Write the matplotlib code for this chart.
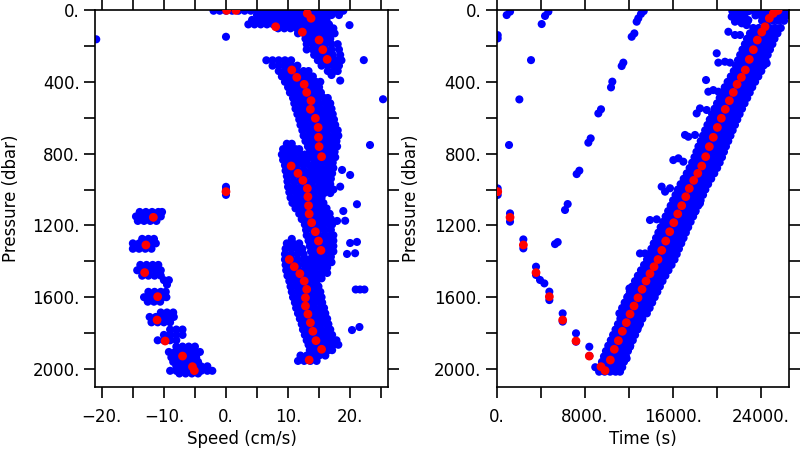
import matplotlib
matplotlib.use("Agg")
import matplotlib.pyplot as plt
import matplotlib.ticker as mticker

plt.rcParams.update({
    "font.family": ["DejaVu Sans"],
    "font.size": 12,
})

# ---------------- bin averages (red) : shared pressure list ----------------
red_p = [2, 2, 19, 46, 93, 123, 167, 221, 275, 334, 375, 414, 459, 505, 553, 603,
         654, 709, 761, 817, 869, 910, 949, 994, 1040, 1090, 1136, 1185, 1235, 1287,
         1339, 1390, 1430, 1469, 1510, 1556, 1603, 1649, 1694, 1742, 1790, 1842,
         1890, 1950, 1012, 1155, 1309, 1463, 1597, 1727, 1844, 1928, 1987, 2009]
red_speed = [0.1, 1.6, 13.1, 13.7, 8.0, 12.3, 15.0, 15.6, 16.3, 10.6, 11.4, 12.6, 13.0,
             13.7, 13.6, 14.4, 14.85, 14.9, 15.0, 15.4, 10.5, 11.6, 12.4, 13.1, 13.2,
             13.3, 13.4, 13.8, 14.4, 14.9, 15.3, 10.2, 11.0, 11.9, 12.6, 13.0, 12.8,
             12.8, 13.2, 13.6, 14.0, 14.5, 15.4, 13.4, 0.0, -11.7, -12.9, -13.1, -11.0,
             -11.1, -9.8, -7.0, -5.4, -5.1]
red_time = [25550, 25400, 25120, 24760, 24370, 24070, 23670, 23310, 22940, 22580,
            22220, 21830, 21490, 21130, 20760, 20400, 20040, 19670, 19310, 18980,
            18620, 18260, 17890, 17490, 17170, 16800, 16440, 16080, 15710, 15350,
            14990, 14650, 14290, 13920, 13560, 13200, 12830, 12470, 12110, 11770,
            11410, 11050, 10680, 10320, 90, 1210, 2420, 3570, 4780, 5990, 7200, 8410,
            9470, 9840]

# ---------------- raw samples (blue), speed panel: (pressure, speeds) rows ----------------
spd_surface = [
    (4, [-2.0, -1.0, 0.0, 1.0, 2.0, 3.0, 4.0, 5.0, 6.0, 7.0, 8.0, 9.0, 10.0, 11.0,
         12.0, 13.0, 14.0, 15.0, 16.0, 17.0, 18.0, 18.9]),
    (28, [5.0, 6.0, 7.0, 8.0, 9.0, 10.0, 11.0, 12.0, 13.0, 14.0, 15.0, 16.0, 17.0, 18.2]),
    (55, [4.2, 5.2, 6.2, 7.2, 8.2, 9.2, 10.2, 11.2, 12.2, 13.2, 14.2, 15.2, 16.2]),
    (80, [3.6, 4.6, 5.6, 6.6, 7.6, 8.6, 9.6, 10.6, 11.6, 12.6, 13.6, 14.6, 15.6, 16.6]),
    (102, [8.4, 9.4, 10.4, 11.4, 12.4, 13.4, 14.4, 15.4, 16.4, 17.3]),
    (130, [11.6, 12.6, 13.6, 14.6, 15.6, 16.6, 17.5]),
    (160, [12.8, 13.8, 14.8, 15.8, 16.8]),
    (190, [13.0, 14.0, 15.0, 16.0, 17.0, 18.0]),
    (220, [13.0, 14.0, 15.0, 16.0, 17.0, 18.2]),
    (250, [14.2, 15.2, 16.2, 17.2, 18.4]),
    (280, [14.8, 15.8, 16.8, 17.8, 18.6]),
    (310, [15.4, 16.4, 17.4, 18.2]),
    (340, [16.4, 17.4, 18.0]),
    (362, [17.0]),
]

spd_upper = [
    (280, [6.5, 7.5, 8.5, 9.5, 10.5]),
    (310, [7.5, 8.5, 9.5, 10.5, 11.5]),
    (340, [8.5, 9.5, 10.5, 11.5, 12.5, 13.3]),
    (370, [9.0, 10.0, 11.0, 12.0, 13.0, 14.0]),
    (400, [9.5, 10.5, 11.5, 12.5, 13.5, 14.5, 15.2]),
    (430, [10.0, 11.0, 12.0, 13.0, 14.0, 15.0]),
    (460, [10.3, 11.3, 12.3, 13.3, 14.3, 15.3]),
    (490, [10.8, 11.8, 12.8, 13.8, 14.8, 15.8, 16.4]),
    (520, [11.0, 12.0, 13.0, 14.0, 15.0, 16.0, 16.8]),
    (550, [11.2, 12.2, 13.2, 14.2, 15.2, 16.2, 17.0]),
    (580, [11.5, 12.5, 13.5, 14.5, 15.5, 16.5, 17.2]),
    (610, [11.8, 12.8, 13.8, 14.8, 15.8, 16.8, 17.4]),
    (640, [12.0, 13.0, 14.0, 15.0, 16.0, 17.0, 17.6]),
    (670, [12.3, 13.3, 14.3, 15.3, 16.3, 17.3, 18.0]),
    (700, [12.5, 13.5, 14.5, 15.5, 16.5, 17.5, 18.1]),
    (730, [12.8, 13.8, 14.8, 15.8, 16.8, 17.8]),
    (760, [13.2, 14.2, 15.2, 16.2, 17.2, 17.9]),
    (790, [13.5, 14.5, 15.5, 16.5, 17.5]),
    (820, [13.8, 14.8, 15.8, 16.8, 17.6]),
    (850, [14.2, 15.2, 16.2, 17.2]),
    (880, [14.4, 15.4, 16.4, 17.3]),
    (910, [14.6, 15.6, 16.6, 17.1]),
    (940, [14.9, 15.9, 16.9]),
    (970, [15.2, 16.2, 16.8]),
    (1000, [15.5, 16.5, 17.3]),
    (1020, [15.8, 16.8]),
]

spd_middle = [
    (745, [9.8, 10.6]),
    (775, [9.2, 10.2, 11.2, 11.8]),
    (805, [9.0, 10.0, 11.0, 12.0, 12.7]),
    (835, [9.2, 10.2, 11.2, 12.2, 13.0]),
    (865, [9.5, 10.5, 11.5, 12.5, 13.5]),
    (895, [9.6, 10.6, 11.6, 12.6, 13.6, 14.2]),
    (925, [9.8, 10.8, 11.8, 12.8, 13.8, 14.7]),
    (955, [9.9, 10.9, 11.9, 12.9, 13.9, 14.9]),
    (985, [10.0, 11.0, 12.0, 13.0, 14.0, 15.0]),
    (1015, [10.2, 11.2, 12.2, 13.2, 14.2, 15.2]),
    (1045, [10.4, 11.4, 12.4, 13.4, 14.4, 15.4]),
    (1075, [10.7, 11.7, 12.7, 13.7, 14.7, 15.7]),
    (1105, [11.2, 12.2, 13.2, 14.2, 15.2, 16.2]),
    (1135, [11.8, 12.8, 13.8, 14.8, 15.8, 16.7]),
    (1165, [12.2, 13.2, 14.2, 15.2, 16.2, 16.9]),
    (1195, [12.7, 13.7, 14.7, 15.7, 16.7, 17.1]),
    (1225, [12.9, 13.9, 14.9, 15.9, 16.9]),
    (1255, [13.0, 14.0, 15.0, 16.0, 17.0, 17.3]),
    (1285, [13.3, 14.3, 15.3, 16.3, 17.3]),
    (1315, [13.5, 14.5, 15.5, 16.5, 17.3]),
    (1345, [13.7, 14.7, 15.7, 16.7, 17.3]),
    (1375, [13.9, 14.9, 15.9, 16.9]),
    (1405, [14.1, 15.1, 16.1, 17.0]),
    (1435, [14.3, 15.3, 16.3]),
    (1465, [14.5, 15.5, 16.3]),
    (1495, [14.8, 15.4]),
]

spd_deep = [
    (1275, [10.6]),
    (1300, [9.8, 10.8, 11.8]),
    (1330, [9.6, 10.6, 11.6, 12.3]),
    (1360, [9.5, 10.5, 11.5, 12.5]),
    (1390, [9.5, 10.5, 11.5, 12.5, 13.1]),
    (1420, [9.6, 10.6, 11.6, 12.6, 13.4]),
    (1450, [9.7, 10.7, 11.7, 12.7, 13.7]),
    (1480, [9.9, 10.9, 11.9, 12.9, 13.9, 14.2]),
    (1510, [10.2, 11.2, 12.2, 13.2, 14.2, 14.6]),
    (1540, [10.4, 11.4, 12.4, 13.4, 14.4, 14.9]),
    (1570, [10.6, 11.6, 12.6, 13.6, 14.6, 15.2]),
    (1600, [10.8, 11.8, 12.8, 13.8, 14.8, 15.4]),
    (1630, [11.1, 12.1, 13.1, 14.1, 15.1, 15.5]),
    (1660, [11.3, 12.3, 13.3, 14.3, 15.3, 15.8]),
    (1690, [11.6, 12.6, 13.6, 14.6, 15.6, 16.0]),
    (1720, [11.9, 12.9, 13.9, 14.9, 15.9, 16.3]),
    (1750, [12.2, 13.2, 14.2, 15.2, 16.2, 16.5]),
    (1780, [12.4, 13.4, 14.4, 15.4, 16.4, 16.8]),
    (1810, [12.7, 13.7, 14.7, 15.7, 16.7, 17.1]),
    (1840, [13.0, 14.0, 15.0, 16.0, 17.0, 17.8]),
    (1865, [13.3, 14.3, 15.3, 16.3, 17.3, 18.1]),
    (1895, [13.5, 14.5, 15.5, 16.5, 17.1]),
    (1925, [12.0, 13.0, 14.0, 15.0, 16.0]),
    (1955, [11.6, 12.6, 13.6, 14.6]),
]

spd_descent = [
    (985, [0.0]), (1000, [0.0]), (1030, [0.0]),
    (1125, [-13.9, -12.9, -11.9, -10.9, -10.3]),
    (1150, [-14.5, -13.5, -12.5, -11.5, -10.5]),
    (1175, [-14.2, -13.2, -12.2, -11.2]),
    (1275, [-13.5, -12.5, -11.6]),
    (1300, [-15.0, -14.0, -13.0, -12.0, -11.3]),
    (1330, [-15.0, -14.0, -13.0, -12.0]),
    (1420, [-13.8, -12.8, -11.8, -10.9]),
    (1450, [-14.3, -13.3, -12.3, -11.3, -10.5]),
    (1480, [-13.5, -12.5, -11.5, -10.5]),
    (1505, [-10.0, -9.2]),
    (1530, [-9.5]),
    (1570, [-12.5, -11.5, -10.5, -9.7]),
    (1600, [-13.2, -12.2, -11.2, -10.2, -9.6]),
    (1625, [-12.6, -11.6, -10.6]),
    (1685, [-10.5, -9.5, -8.5]),
    (1710, [-12.3, -11.3, -10.3, -9.3, -8.4]),
    (1740, [-12.0, -11.0, -10.0, -9.0]),
    (1780, [-9.0, -8.0, -7.0]),
    (1810, [-10.0, -9.0, -8.0, -7.0]),
    (1840, [-11.0, -10.0, -9.0, -8.0]),
    (1875, [-8.0, -7.0, -6.0, -5.0]),
    (1905, [-9.2, -8.2, -7.2, -6.2, -5.2, -4.2]),
    (1935, [-8.8, -7.8, -6.8, -5.8, -4.8]),
    (1960, [-8.5, -7.5, -6.5, -5.5, -4.5]),
    (1985, [-8.0, -7.0, -6.0, -5.0, -4.0, -3.0]),
    (2010, [-9.0, -8.0, -7.0, -6.0, -5.0, -4.0, -3.0, -2.2]),
    (2025, [-7.5, -6.5, -5.5, -4.5]),
]

loose_p = [163, 149, 84, 279, 393, 497, 752, 891, 919, 984, 1003, 1082, 1120, 1175,
           1174, 1298, 1292, 1359, 1355, 1557, 1557, 1557, 1783, 1766]
loose_speed = [-20.9, 0.0, 19.9, 22.2, 18.4, 25.3, 23.2, 18.7, 20.0, 18.4, 17.0, 21.1,
               18.9, 17.9, 19.2, 20.0, 21.1, 19.5, 20.8, 20.9, 21.6, 22.3, 20.3, 21.5]

# ---------------- raw samples (blue), time panel ----------------
tim_surface = [
    (6, [21400, 21900, 22400, 22900, 23400, 23900, 24400, 24900, 25400, 25900, 26400]),
    (30, [21500, 22000, 22500, 23500, 24000, 24500, 25000, 25500, 26000, 26400]),
    (60, [21700, 22300, 22800, 24100, 24600, 25100, 25600, 26100]),
]

tim_ascent = [
    (100, [23300, 23800, 24300, 24800, 25300, 25800]),
    (130, [23000, 23500, 24000, 24500, 25000, 25500]),
    (160, [22730, 23230, 23730, 24230, 24730, 25230]),
    (190, [22540, 23040, 23540, 24040, 24540, 25040]),
    (220, [22320, 22820, 23320, 23820, 24320, 24820]),
    (250, [22110, 22610, 23110, 23610, 24110, 24610]),
    (280, [21910, 22410, 22910, 23410, 23910, 24410]),
    (310, [21730, 22230, 22730, 23230, 23730, 24230]),
    (340, [21530, 22030, 22530, 23030, 23530, 24030]),
    (370, [21260, 21760, 22260, 22760, 23260, 23760]),
    (400, [20970, 21470, 21970, 22470, 22970, 23470]),
    (430, [20710, 21210, 21710, 22210, 22710, 23210]),
    (460, [20480, 20980, 21480, 21980, 22480, 22980]),
    (490, [20250, 20750, 21250, 21750, 22250, 22750]),
    (520, [20010, 20510, 21010, 21510, 22010, 22510]),
    (550, [19780, 20280, 20780, 21280, 21780, 22280]),
    (580, [19560, 20060, 20560, 21060, 21560, 22060]),
    (610, [19350, 19850, 20350, 20850, 21350, 21850]),
    (640, [19140, 19640, 20140, 20640, 21140, 21640]),
    (670, [18930, 19430, 19930, 20430, 20930, 21430]),
    (700, [18730, 19230, 19730, 20230, 20730, 21230]),
    (730, [18530, 19030, 19530, 20030, 20530, 21030]),
    (760, [18320, 18820, 19320, 19820, 20320, 20820]),
    (790, [18140, 18640, 19140, 19640, 20140, 20640]),
    (820, [17960, 18460, 18960, 19460, 19960, 20460]),
    (850, [17750, 18250, 18750, 19250, 19750, 20250]),
    (880, [17520, 18020, 18520, 19020, 19520, 20020]),
    (910, [17260, 17760, 18260, 18760, 19260, 19760]),
    (940, [16980, 17480, 17980, 18480, 18980, 19480]),
    (970, [16700, 17200, 17700, 18200, 18700, 19200]),
    (1000, [16450, 16950, 17450, 17950, 18450, 18950]),
    (1030, [16240, 16740, 17240, 17740, 18240, 18740]),
    (1060, [16020, 16520, 17020, 17520, 18020, 18520]),
    (1090, [15800, 16300, 16800, 17300, 17800, 18300]),
    (1120, [15570, 16070, 16570, 17070, 17570, 18070]),
    (1150, [15340, 15840, 16340, 16840, 17340, 17840]),
    (1180, [15110, 15610, 16110, 16610, 17110, 17610]),
    (1210, [14890, 15390, 15890, 16390, 16890, 17390]),
    (1240, [14680, 15180, 15680, 16180, 16680, 17180]),
    (1270, [14470, 14970, 15470, 15970, 16470, 16970]),
    (1300, [14260, 14760, 15260, 15760, 16260, 16760]),
    (1330, [14050, 14550, 15050, 15550, 16050, 16550]),
    (1360, [13850, 14350, 14850, 15350, 15850, 16350]),
    (1390, [13650, 14150, 14650, 15150, 15650, 16150]),
    (1420, [13380, 13880, 14380, 14880, 15380, 15880]),
    (1450, [13100, 13600, 14100, 14600, 15100, 15600]),
    (1480, [12820, 13320, 13820, 14320, 14820, 15320]),
    (1510, [12560, 13060, 13560, 14060, 14560, 15060]),
    (1540, [12320, 12820, 13320, 13820, 14320, 14820]),
    (1570, [12090, 12590, 13090, 13590, 14090, 14590]),
    (1600, [11850, 12350, 12850, 13350, 13850, 14350]),
    (1630, [11620, 12120, 12620, 13120, 13620, 14120]),
    (1660, [11390, 11890, 12390, 12890, 13390, 13890]),
    (1690, [11140, 11640, 12140, 12640, 13140, 13640]),
    (1720, [11230, 11730, 12230, 12730, 13230]),
    (1750, [11010, 11510, 12010, 12510, 13010]),
    (1780, [10790, 11290, 11790, 12290, 12790]),
    (1810, [10570, 11070, 11570, 12070, 12570]),
    (1840, [10360, 10860, 11360, 11860, 12360]),
    (1870, [10130, 10630, 11130, 11630, 12130]),
    (1900, [9920, 10420, 10920, 11420, 11920]),
    (1930, [9740, 10240, 10740, 11240, 11740]),
    (1960, [9560, 10060, 10560, 11060, 11560]),
    (1990, [8950, 9400, 9900, 10400, 10900, 11400]),
    (2015, [9300, 9800, 10300, 10800, 11200]),
]

# stragglers beside the ascent band
stray_time = [21040, 21640, 22100, 19980, 20130, 20730, 21190, 19010, 19220, 19670, 20130,
              18160, 18460, 19070, 17100, 17400, 18010, 16040, 16500, 16950, 14980, 15290,
              15740, 13920, 14530, 13010, 13470, 12050, 12410, 21340, 21790, 22250, 22700,
              22850, 21640, 24520, 18010, 17190, 16800, 16040, 15590, 15290, 14680, 14380,
              13620, 12860, 12110, 12110, 11800, 18460, 11950]
stray_p = [121, 139, 139, 241, 293, 288, 293, 390, 455, 446, 455,
           576, 548, 557, 696, 706, 696, 836, 826, 845, 984, 1012,
           993, 1170, 1166, 1356, 1356, 1551, 1560, 37, 46, 74, 84,
           56, 65, 297, 1124, 1222, 1282, 1374, 1412, 1458, 1542, 1579,
           1662, 1764, 1820, 1876, 1941, 1077, 1594]

# descent: sparse samples
desc_time = [905, 1210, 88, 88, 3115, 2056, 1117, 88, 88, 1208, 1208, 2419, 2419,
             3569, 3569, 3932, 4326, 4780, 4780, 5990, 5990, 7200, 7200, 8410, 8410,
             4084, 4387, 4690,
             5295, 5537, 6203, 6445, 7262, 7504, 8322, 8534, 9230, 9472, 10380, 10500,
             11350, 11500, 12257, 12500, 12710, 12860, 13100, 13350]
desc_p = [28, 9, 140, 158, 279, 498, 752, 994, 1030, 1133, 1179, 1278, 1328,
          1430, 1476, 1504, 1523, 1569, 1616, 1690, 1736, 1801, 1848, 1876, 1927,
          78, 33, 9,
          1304, 1293, 1114, 1081, 914, 895, 739, 715, 576, 553, 431, 399,
          312, 293, 149, 130, 65, 46, 22, 6]


def flatten(rows):
    p, v = [], []
    for pr, vals in rows:
        p += [pr] * len(vals)
        v += vals
    return p, v


BLUE = "#0000ff"
RED = "#ff0000"
S_BLUE = 34
S_RED = 40


def fmt(v, pos):
    return f"{int(round(v))}.".replace("-", "\u2212")


def style(ax):
    ax.set_ylim(2102, 0)
    ax.yaxis.set_major_locator(mticker.MultipleLocator(400))
    ax.yaxis.set_minor_locator(mticker.MultipleLocator(200))
    ax.yaxis.set_major_formatter(mticker.FuncFormatter(fmt))
    ax.xaxis.set_major_formatter(mticker.FuncFormatter(fmt))
    for sp in ax.spines.values():
        sp.set_linewidth(1.2)
    ax.tick_params(which="both", direction="out", length=8, width=1.2,
                   top=True, right=True, labeltop=False, labelright=False,
                   labelsize=12)
    ax.tick_params(axis="x", which="both", pad=7)
    ax.tick_params(axis="y", which="both", pad=3)
    ax.set_ylabel("Pressure (dbar)", fontsize=12)
    ax.yaxis.set_label_coords(-0.256, 0.5)
    ax.xaxis.set_label_coords(0.5, -0.113)


fig = plt.figure(figsize=(8, 4.5), dpi=100)
ax1 = fig.add_axes([0.11875, 0.1393, 0.36625, 0.8384])
ax2 = fig.add_axes([0.6209, 0.1393, 0.36575, 0.8384])

# ---- speed panel ----
for rows in (spd_surface, spd_upper, spd_middle, spd_deep, spd_descent):
    p, u = flatten(rows)
    ax1.scatter(u, p, s=S_BLUE, c=BLUE, edgecolors="none", zorder=2)
ax1.scatter(loose_speed, loose_p, s=S_BLUE, c=BLUE, edgecolors="none", zorder=2)
ax1.scatter(red_speed, red_p, s=S_RED, c=RED, edgecolors="none", zorder=3)
ax1.set_xlim(-21.1, 26.1)
ax1.xaxis.set_major_locator(mticker.MultipleLocator(10))
ax1.xaxis.set_minor_locator(mticker.MultipleLocator(5))
style(ax1)
ax1.set_xlabel("Speed (cm/s)", fontsize=12)

# ---- time panel ----
for rows in (tim_surface, tim_ascent):
    p, t = flatten(rows)
    ax2.scatter(t, p, s=S_BLUE, c=BLUE, edgecolors="none", zorder=2)
ax2.scatter(stray_time, stray_p, s=S_BLUE, c=BLUE, edgecolors="none", zorder=2)
ax2.scatter(desc_time, desc_p, s=S_BLUE, c=BLUE, edgecolors="none", zorder=2)
ax2.scatter(red_time, red_p, s=S_RED, c=RED, edgecolors="none", zorder=3)
ax2.set_xlim(0, 26575)
ax2.xaxis.set_major_locator(mticker.MultipleLocator(8000))
ax2.xaxis.set_minor_locator(mticker.MultipleLocator(4000))
style(ax2)
ax2.yaxis.set_label_coords(-0.262, 0.5)
ax2.set_xlabel("Time (s)", fontsize=12)

fig.savefig("out.png", dpi=100)
plt.close(fig)
